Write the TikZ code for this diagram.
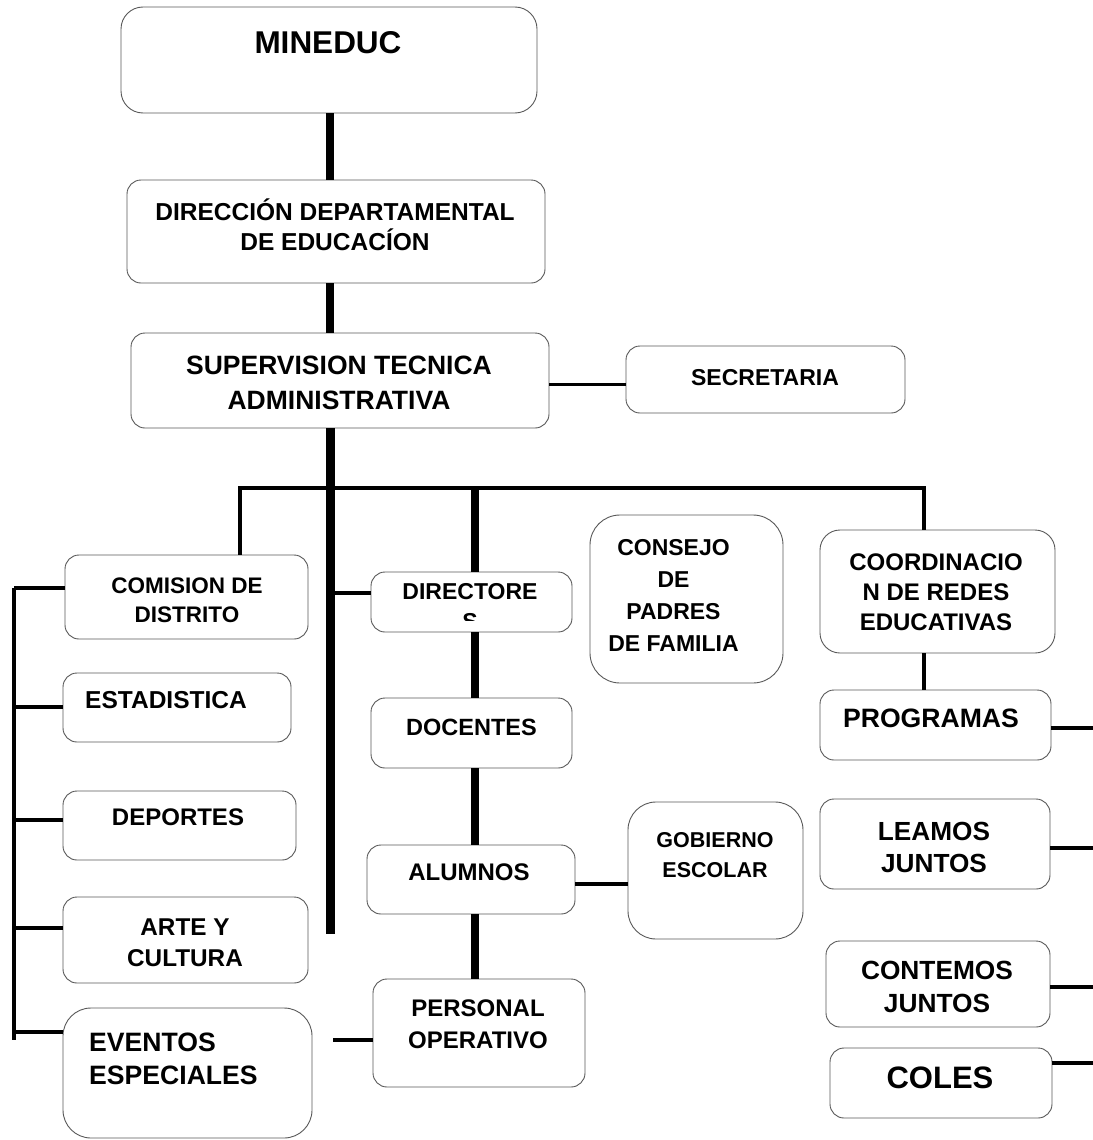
\documentclass[tikz,border=0pt]{standalone}
\usepackage{fontspec}
\setmainfont{Liberation Sans}

\begin{document}
\begin{tikzpicture}[x=1pt, y=-1pt,
    box/.style={draw=black!65, line width=0.9pt, rounded corners=14pt, inner sep=0pt},
    lbl/.style 2 args={align=center, inner sep=0pt, font=\bfseries\fontsize{#1}{#2}\selectfont},
    conn/.style={line width=3.5pt},
    trunk/.style={line width=7.5pt},
    spine/.style={line width=9pt}]

    % Page size
    \path[use as bounding box, fill=white] (0,0) rectangle (1092,1140);

    % Draw the boxes
    \node[box, minimum width=416pt, minimum height=106pt, rounded corners=22pt] (mineduc) at (329,60) {};
    \node[box, minimum width=418pt, minimum height=103pt] (direccion) at (336,231.5) {};
    \node[box, minimum width=418pt, minimum height=95pt] (supervision) at (340,380.5) {};
    \node[box, minimum width=279pt, minimum height=67pt] (secretaria) at (765.5,379.5) {};
    \node[box, minimum width=243pt, minimum height=84pt] (comision) at (186.5,597) {};
    \node[box, minimum width=201pt, minimum height=60pt] (directores) at (471.5,602) {};
    \node[box, minimum width=193pt, minimum height=168pt, rounded corners=30pt] (consejo) at (686.5,599) {};
    \node[box, minimum width=235pt, minimum height=123pt, rounded corners=20pt] (coord) at (937.5,591.5) {};
    \node[box, minimum width=228pt, minimum height=69pt] (estadistica) at (177,707.5) {};
    \node[box, minimum width=201pt, minimum height=70pt] (docentes) at (471.5,733) {};
    \node[box, minimum width=231pt, minimum height=70pt] (programas) at (935.5,725) {};
    \node[box, minimum width=233pt, minimum height=69pt] (deportes) at (179.5,825.5) {};
    \node[box, minimum width=230pt, minimum height=90pt] (leamos) at (935,844) {};
    \node[box, minimum width=208pt, minimum height=69pt] (alumnos) at (471,879.5) {};
    \node[box, minimum width=175pt, minimum height=137pt, rounded corners=28pt] (gobierno) at (715.5,870.5) {};
    \node[box, minimum width=245pt, minimum height=86pt] (arte) at (185.5,940) {};
    \node[box, minimum width=224pt, minimum height=86pt] (contemos) at (938,984) {};
    \node[box, minimum width=212pt, minimum height=108pt] (personal) at (479,1033) {};
    \node[box, minimum width=249pt, minimum height=130pt, rounded corners=28pt] (eventos) at (187.5,1073) {};
    \node[box, minimum width=222pt, minimum height=70pt] (coles) at (941,1083) {};

    % Texts
    \node[lbl={31.5}{36}] (tMineduc) at (328,43) {MINEDUC};
    \node[lbl={24.5}{30}] (tDireccion) at (335,225) {DIRECCIÓN DEPARTAMENTAL\\DE EDUCACÍON};
    \node[lbl={26.5}{35}] (tSupervision) at (339,382.5) {SUPERVISION TECNICA\\ADMINISTRATIVA};
    \node[lbl={23}{30}] (tSecretaria) at (765,378) {SECRETARIA};
    \node[lbl={22.5}{29}] (tComision) at (187,600.5) {COMISION DE\\DISTRITO};
    \begin{scope}
        \clip (371,572) rectangle (572,620);
        \node[lbl={23}{30}] (tDirectores) at (470,607) {DIRECTORE\\S};
    \end{scope}
    \node[lbl={23}{32}] (tConsejo) at (673.5,595) {CONSEJO\\DE\\PADRES\\DE FAMILIA};
    \node[lbl={24}{30}] (tCoord) at (936,592) {COORDINACIO\\N DE REDES\\EDUCATIVAS};
    \node[lbl={24.5}{30}] (tEstadistica) at (166,700) {ESTADISTICA};
    \node[lbl={23.5}{30}] (tDocentes) at (471.5,727) {DOCENTES};
    \node[lbl={26.6}{32}] (tProgramas) at (931,718) {PROGRAMAS};
    \node[lbl={24}{30}] (tDeportes) at (178,817) {DEPORTES};
    \node[lbl={26.2}{32}] (tLeamos) at (934,847) {LEAMOS\\JUNTOS};
    \node[lbl={24}{30}] (tAlumnos) at (469,872) {ALUMNOS};
    \node[lbl={21.5}{30}] (tGobierno) at (715,855) {GOBIERNO\\ESCOLAR};
    \node[lbl={24.3}{31}] (tArte) at (185,942.5) {ARTE Y\\CULTURA};
    \node[lbl={26.3}{33}] (tContemos) at (937,986.5) {CONTEMOS\\JUNTOS};
    \node[lbl={24}{32}] (tPersonal) at (478,1024) {PERSONAL\\OPERATIVO};
    \node[lbl={26.6}{33}, align=left, anchor=west] (tEventos) at (89,1058.5) {EVENTOS\\ESPECIALES};
    \node[lbl={31}{36}] (tColes) at (940,1078) {COLES};

    \coordinate (barL) at (240,488);
    \coordinate (barM) at (475,488);
    \coordinate (barR) at (924,488);
    \coordinate (spineEnd) at (330,934);
    \coordinate (railTop) at (14,588);
    \coordinate (railBot) at (14,1040);

    % Main line down the middle
    \draw[trunk] (mineduc.south -| spineEnd) -- (direccion.north -| spineEnd);
    \draw[trunk] (direccion.south -| spineEnd) -- (supervision.north -| spineEnd);
    \draw[spine] (supervision.south -| spineEnd) -- (spineEnd);
    \draw[conn] ([yshift=-4pt]supervision.east) -- ++(77,0);

    % Bar and columns
    \draw[conn] (comision.north -| barL) -- (barL) -- (barR) -- (coord.north -| barR);
    \draw[trunk] (barM) -- (directores.north -| barM);
    \draw[trunk] (directores.south -| barM) -- (docentes.north -| barM);
    \draw[trunk] (docentes.south -| barM) -- (alumnos.north -| barM);
    \draw[trunk] (alumnos.south -| barM) -- (personal.north -| barM);
    \draw[conn] (coord.south -| barR) -- (programas.north -| barR);

    % Side stubs
    \draw[conn] (railTop) -- (railBot);
    \foreach \n/\s in {comision/9, estadistica/0.5, deportes/5.5, arte/12, eventos/41}
        \draw[conn] ([yshift=\s pt]\n.west) -| (railTop);
    \foreach \n/\s in {programas/-3, leamos/-4, contemos/-3, coles/20}
        \draw[conn] ([yshift=\s pt]\n.east) -- ++(50,0);
    \draw[conn] ([yshift=9pt]directores.west) -- ++(-38,0);
    \draw[conn] ([yshift=-7pt]personal.west) -- ++(-40,0);
    \draw[conn] ([yshift=-4.5pt]alumnos.east) -- ++(53,0);

\end{tikzpicture}
\end{document}
